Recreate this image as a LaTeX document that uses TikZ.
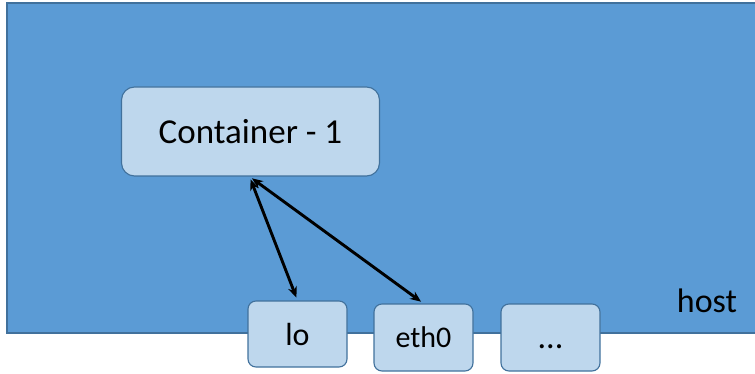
\documentclass[tikz,border=0pt]{standalone}
\usepackage{fontspec}
\setmainfont{Carlito}
\definecolor{hostblue}{RGB}{91,155,213}
\definecolor{hostline}{RGB}{65,113,156}
\definecolor{boxblue}{RGB}{190,215,237}
\usetikzlibrary{arrows.meta,positioning}

\begin{document}
\begin{tikzpicture}[x=1pt, y=-1pt,
  ifbox/.style={draw=hostline, line width=1.1pt, fill=boxblue, rounded corners=8pt,
    minimum width=99pt, minimum height=67pt, inner sep=0pt},
  link/.style={line width=2.9pt, {Stealth[length=11pt,width=9pt]}-{Stealth[length=11pt,width=9pt]},
    shorten <=3pt, shorten >=3pt}]
\useasboundingbox (0,0) rectangle (755,374);
% Host
\draw[draw=hostline, line width=1.1pt, fill=hostblue] (7,3) rectangle (760,333);
\node[anchor=base, font=\fontsize{34}{40}\selectfont] (host) at (707,312) {host};
% Container
\node[ifbox, minimum width=258pt, minimum height=89pt, rounded corners=13pt,
  font=\fontsize{35}{42}\selectfont] (cont) at (250.5,131.5) {Container - 1};
% Interfaces
\node[ifbox, minimum height=66pt, font=\fontsize{32}{38}\selectfont] (lo) at (297.5,334) {lo};
\node[ifbox, font=\fontsize{30}{36}\selectfont] (eth) at (423.5,337.5) {eth0};
\node[ifbox, font=\fontsize{34}{40}\selectfont] (more) at (550.5,337.5) {\vphantom{0}...};
% Links
\draw[link] ([xshift=-1pt]cont.south) -- (lo.north);
\draw[link] ([xshift=-1pt]cont.south) -- (eth.north);
\end{tikzpicture}
\end{document}
